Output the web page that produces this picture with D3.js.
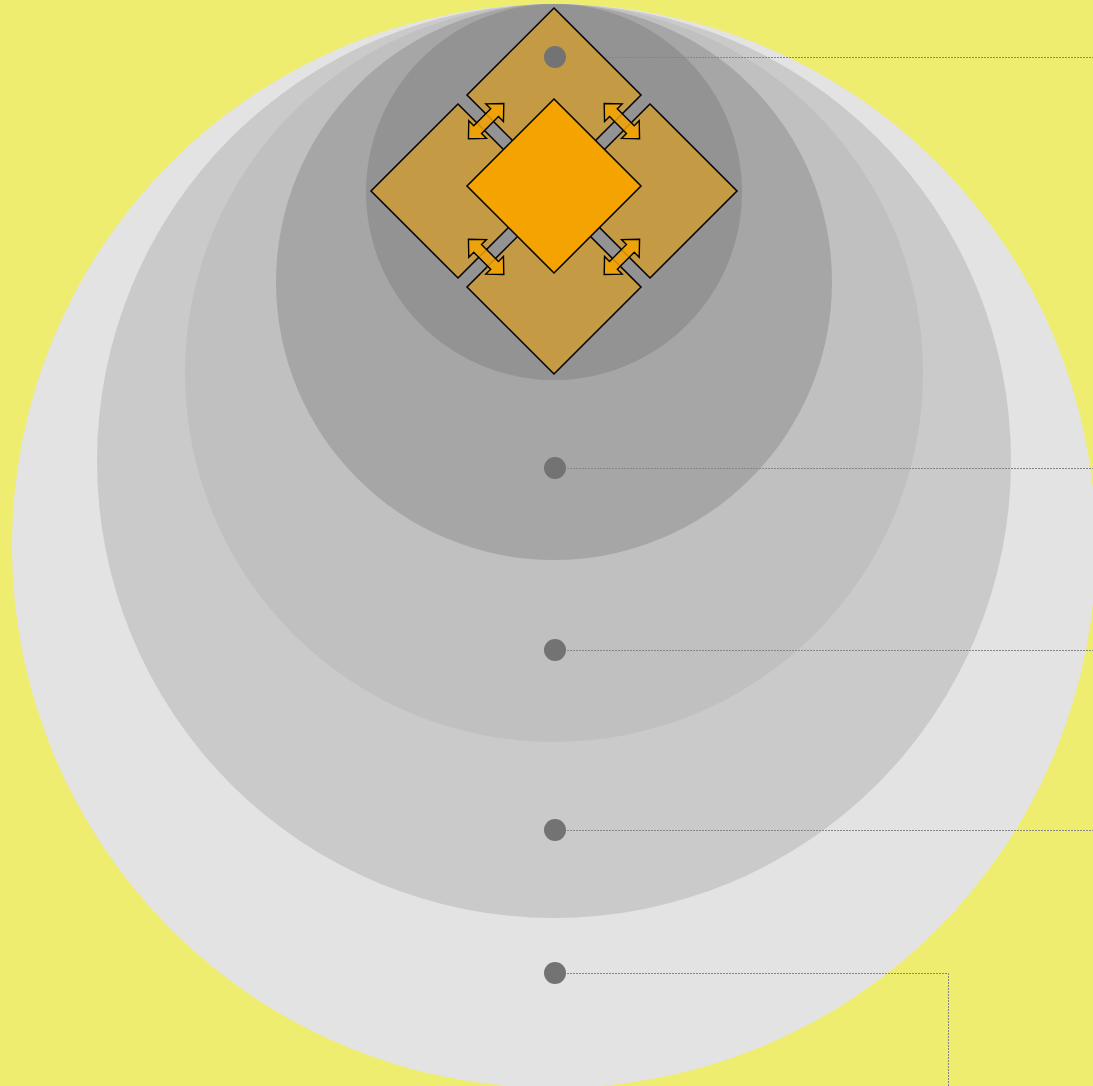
<!DOCTYPE html>
<html>
<head>
<meta charset="utf-8">
<script src="https://cdn.jsdelivr.net/npm/d3@7"></script>
<style>
  html, body { margin: 0; padding: 0; background: #eeed6f; overflow: hidden; }
  svg { display: block; }
</style>
</head>
<body>
<div id="chart"></div>
<script>
// === layers of the onion (outer -> inner) ===
var layerNames = ["Layer 1", "Layer 2", "Layer 3", "Layer 4", "Layer 5"];
var layerSizes = [542, 457, 369, 278, 188];
var layerColors = ["#e3e3e3", "#cacaca", "#bfc0bf", "#a6a6a6", "#939393"];
// where each layer's marker dot sits (distance from top)
var markerDepth = [973, 830, 650, 468, 57];

// === diamonds in the core ===
var sideNames = ["top", "right", "bottom", "left"];
var sideAngles = [-90, 0, 90, 180];
var arrowAngles = [-135, -45, 45, 135];

var width = 1093, height = 1086;
var cx = 554, topY = 4;

var svg = d3.select("#chart").append("svg")
    .attr("width", width)
    .attr("height", height);

svg.append("rect")
    .attr("width", width).attr("height", height)
    .attr("fill", "#eeed6f");

var r = d3.scaleLinear().domain([0, 542]).range([0, 542]);

// circles, all touching at the top
svg.selectAll(".layer")
    .data(layerSizes)
    .enter()
    .append("circle")
    .attr("class", "layer")
    .attr("cx", cx)
    .attr("cy", function (d) { return topY + r(d); })
    .attr("r", function (d) { return r(d); })
    .attr("fill", function (d, i) { return layerColors[i]; });

// leader lines
var leaders = svg.append("g")
    .attr("fill", "none")
    .attr("stroke", "#868686")
    .attr("stroke-width", 1)
    .attr("stroke-dasharray", "2,1");

leaders.selectAll("path")
    .data(markerDepth)
    .enter()
    .append("path")
    .attr("d", function (d, i) {
        if (i == 0) return "M" + (cx + 1) + "," + (d + 0.5) + " H948.5 V" + height;
        return "M" + (cx + 1) + "," + (d + 0.5) + " H" + width;
    });

// the core diamonds
var core = svg.append("g").attr("transform", "translate(" + cx + ",191)");
var half = 87, offset = 96;

function diamond(s) {
    return "M0," + (-s) + " L" + s + ",0 L0," + s + " L" + (-s) + ",0Z";
}

core.selectAll(".side")
    .data(sideAngles)
    .enter()
    .append("path")
    .attr("class", "side")
    .attr("d", diamond(half))
    .attr("transform", function (a) {
        var rad = a * Math.PI / 180;
        return "translate(" + (offset * Math.cos(rad)) + "," + (offset * Math.sin(rad)) + ")";
    })
    .attr("fill", "#c49a45")
    .attr("stroke", "#000")
    .attr("stroke-width", 1.5)
    .attr("stroke-linejoin", "miter");

core.append("path")
    .attr("d", diamond(half))
    .attr("transform", "translate(0,-5)")
    .attr("fill", "#f4a300")
    .attr("stroke", "#000")
    .attr("stroke-width", 1.5);

// double headed arrows across the gaps
function arrow(len, sw, hw, hl) {
    var a = len / 2;
    return "M" + (-a) + ",0 L" + (-a + hl) + "," + (-hw) + " L" + (-a + hl) + "," + (-sw) +
        " L" + (a - hl) + "," + (-sw) + " L" + (a - hl) + "," + (-hw) + " L" + a + ",0" +
        " L" + (a - hl) + "," + hw + " L" + (a - hl) + "," + sw +
        " L" + (-a + hl) + "," + sw + " L" + (-a + hl) + "," + hw + "Z";
}

core.selectAll(".arrow")
    .data(arrowAngles)
    .enter()
    .append("path")
    .attr("class", "arrow")
    .attr("d", arrow(50, 5.5, 12.5, 13))
    .attr("transform", function (a) {
        var rad = a * Math.PI / 180;
        return "translate(" + (96 * Math.cos(rad)) + "," + (96 * Math.sin(rad) - 2) + ") rotate(" + (a + 90) + ")";
    })
    .attr("fill", "#f4a300")
    .attr("fill-opacity", 0.85)
    .attr("stroke", "#000")
    .attr("stroke-width", 1.4)
    .attr("stroke-linejoin", "miter");

// layer marker dots
svg.selectAll(".marker")
    .data(markerDepth)
    .enter()
    .append("circle")
    .attr("class", "marker")
    .attr("cx", cx + 1)
    .attr("cy", function (d) { return d; })
    .attr("r", 11)
    .attr("fill", "#737373")
    .append("title")
    .text(function (d, i) { return layerNames[i]; });
</script>
</body>
</html>
